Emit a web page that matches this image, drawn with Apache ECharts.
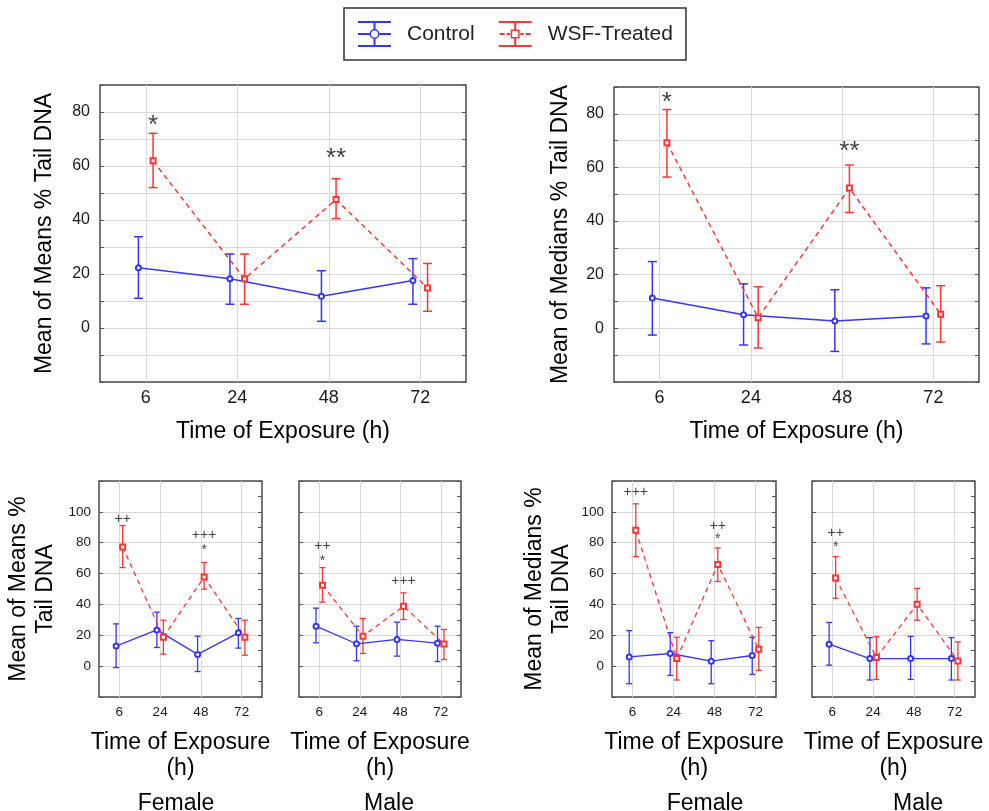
<!DOCTYPE html>
<html>
<head>
<meta charset="utf-8">
<script src="https://cdn.jsdelivr.net/npm/echarts@6/dist/echarts.min.js"></script>
<style>
  html, body { margin: 0; background: #fff; }
  #chart { width: 989px; height: 811px; }
</style>
</head>
<body>
<div id="chart"></div>
<script>
var hours = ['6', '24', '48', '72']

// each row: [mean, lower, upper] for 6, 24, 48, 72 h
var allMeansCtrl = [[22.3, 11.0, 33.8], [18.2, 8.8, 27.4], [11.8, 2.5, 21.2], [17.6, 8.8, 25.7]]
var allMeansWsf = [[61.9, 52.0, 72.1], [18.2, 8.8, 27.4], [47.6, 40.5, 55.3], [14.8, 6.2, 23.9]]
var allMediansCtrl = [[11.3, -2.5, 24.9], [5.1, -6.2, 16.6], [2.7, -8.6, 14.4], [4.6, -5.8, 15.1]]
var allMediansWsf = [[69.2, 56.4, 81.6], [4.0, -7.3, 15.5], [52.3, 43.2, 60.9], [5.3, -5.1, 15.9]]
var femaleMeansCtrl = [[13.0, -0.9, 27.4], [23.5, 12.1, 35.0], [7.6, -3.5, 19.4], [21.6, 11.7, 30.9]]
var femaleMeansWsf = [[77.3, 63.9, 91.1], [18.8, 7.8, 29.8], [57.7, 49.9, 67.2], [18.8, 7.1, 29.8]]
var maleMeansCtrl = [[25.9, 15.1, 37.6], [14.5, 3.5, 25.9], [17.3, 6.5, 28.5], [14.9, 3.0, 25.9]]
var maleMeansWsf = [[52.5, 41.5, 63.9], [19.4, 8.2, 30.9], [38.9, 30.2, 47.5], [14.3, 4.3, 23.8]]
var femaleMediansCtrl = [[6.0, -11.4, 23.0], [8.2, -6.0, 21.7], [3.2, -11.4, 16.5], [6.9, -5.4, 18.7]]
var femaleMediansWsf = [[88.0, 71.0, 105.2], [4.9, -9.0, 18.7], [65.9, 54.9, 76.6], [10.9, -2.8, 25.1]]
var maleMediansCtrl = [[14.2, 0.6, 28.3], [4.9, -9.0, 18.5], [4.9, -8.6, 19.3], [4.9, -9.0, 18.5]]
var maleMediansWsf = [[57.1, 44.0, 71.0], [5.6, -8.6, 19.1], [40.1, 29.8, 50.4], [3.4, -9.0, 15.7]]

// significance marks: [time index, y, text]
var allMeansMarks = [[0, 75, '*'], [2, 62.5, '**']]
var allMediansMarks = [[0, 84, '*'], [2, 66, '**']]
var femaleMeansMarks = [[0, 95, '++'], [2, 85, '+++'], [2, 75, '*']]
var maleMeansMarks = [[0, 78, '++'], [0, 68, '*'], [2, 55, '+++']]
var femaleMediansMarks = [[0, 112.5, '+++'], [2, 91, '++'], [2, 82, '*']]
var maleMediansMarks = [[0, 86, '++'], [0, 77, '*']]

var BLUE = '#3535ff'
var RED = '#ff3535'
var FONT = 'Liberation Sans, Arial, sans-serif'
var DX = 0.16

var panels = [
  { ctrl: allMeansCtrl, wsf: allMeansWsf, marks: allMeansMarks, left: 100, top: 85, width: 366, height: 297, ymax: 90, step: 10, big: true,
    yName: 'Mean of Means % Tail DNA', yGap: 42, xName: 'Time of Exposure (h)', xGap: 37 },
  { ctrl: allMediansCtrl, wsf: allMediansWsf, marks: allMediansMarks, left: 614, top: 87, width: 365, height: 295, ymax: 90, step: 10, big: true,
    yName: 'Mean of Medians % Tail DNA', yGap: 40, xName: 'Time of Exposure (h)', xGap: 37 },
  { ctrl: femaleMeansCtrl, wsf: femaleMeansWsf, marks: femaleMeansMarks, left: 99, top: 481, width: 163, height: 216, ymax: 120, step: 20,
    yName: 'Mean of Means %\nTail DNA', yGap: 40, xName: 'Time of Exposure\n(h)', xGap: 33 },
  { ctrl: maleMeansCtrl, wsf: maleMeansWsf, marks: maleMeansMarks, left: 299, top: 481, width: 162, height: 216, ymax: 120, step: 20,
    yName: '', yGap: 0, xName: 'Time of Exposure\n(h)', xGap: 33 },
  { ctrl: femaleMediansCtrl, wsf: femaleMediansWsf, marks: femaleMediansMarks, left: 612, top: 481, width: 164, height: 216, ymax: 120, step: 20,
    yName: 'Mean of Medians %\nTail DNA', yGap: 37, xName: 'Time of Exposure\n(h)', xGap: 33 },
  { ctrl: maleMediansCtrl, wsf: maleMediansWsf, marks: maleMediansMarks, left: 812, top: 481, width: 163, height: 216, ymax: 120, step: 20,
    yName: '', yGap: 0, xName: 'Time of Exposure\n(h)', xGap: 33 }
]

var sexLabels = [
  { text: 'Female', x: 171 }, { text: 'Male', x: 384 },
  { text: 'Female', x: 700 }, { text: 'Male', x: 913 }
]

var ctrlIcon = 'path://M0,0H33V2H0Z M0,24H33V26H0Z M0,12H11.5V14H0Z M21.5,12H33V14H21.5Z M15.5,2H17.5V8H15.5Z M15.5,18H17.5V24H15.5Z ' +
  'M21.5,13A5,5 0 1,0 11.5,13A5,5 0 1,0 21.5,13Z M20,13A3.5,3.5 0 1,1 13,13A3.5,3.5 0 1,1 20,13Z'
var wsfIcon = 'path://M0,0H33V2H0Z M0,24H33V26H0Z M1,12H6V14H1Z M8,12H11.5V14H8Z M21.5,12H25V14H21.5Z M27,12H32V14H27Z M15.5,2H17.5V8.5H15.5Z M15.5,17.5H17.5V24H15.5Z ' +
  'M12,8.5H21V17.5H12Z M13.5,16H19.5V10H13.5Z'

function errorBars (k, name, rows, dx, color, capW, lw) {
  return {
    type: 'custom', name: name, xAxisIndex: k, yAxisIndex: 2 * k, z: 2,
    color: color, itemStyle: { color: color },
    data: rows.map(function (r, i) { return [2 * i + 1 + dx, r[0], r[1], r[2]] }),
    encode: { x: 0, y: [2, 3] },
    renderItem: function (params, api) {
      var lo = api.coord([api.value(0), api.value(2)])
      var hi = api.coord([api.value(0), api.value(3)])
      var st = { stroke: color, lineWidth: lw }
      return {
        type: 'group',
        children: [
          { type: 'line', shape: { x1: lo[0], y1: lo[1], x2: hi[0], y2: hi[1] }, style: st },
          { type: 'line', shape: { x1: hi[0] - capW, y1: hi[1], x2: hi[0] + capW, y2: hi[1] }, style: st },
          { type: 'line', shape: { x1: lo[0] - capW, y1: lo[1], x2: lo[0] + capW, y2: lo[1] }, style: st }
        ]
      }
    }
  }
}

var grids = [], xAxes = [], yAxes = [], series = []

panels.forEach(function (p, k) {
  var big = !!p.big
  var lw = big ? 1.5 : 1.3
  grids.push({ left: p.left, top: p.top, width: p.width, height: p.height, show: true,
    borderColor: '#4a4a4a', borderWidth: 1.5, backgroundColor: '#fff' })
  xAxes.push({
    gridIndex: k, type: 'value', min: 0, max: 8, interval: 1,
    axisLine: { show: false }, axisTick: { show: false },
    axisLabel: { fontSize: big ? 18 : 13.5, color: '#1a1a1a', fontFamily: FONT, margin: big ? 7 : 8,
      formatter: function (v) { return v % 2 === 1 ? hours[(v - 1) / 2] : '' } },
    splitLine: { show: true, showMinLine: false, showMaxLine: false,
      lineStyle: { color: ['#d9d9d9', 'rgba(0,0,0,0)'], width: 1 } },
    name: p.xName, nameLocation: 'middle', nameGap: p.xGap,
    nameTextStyle: { fontSize: 23, color: '#000', fontFamily: FONT, lineHeight: 26 }
  })
  yAxes.push({
    gridIndex: k, type: 'value', min: -20, max: p.ymax, interval: p.step,
    axisLine: { show: false },
    axisTick: { show: true, inside: true, length: 4, lineStyle: { color: '#555' } },
    axisLabel: { show: p.yName !== '', fontSize: big ? 16 : 13.5, color: '#1a1a1a', fontFamily: FONT, margin: big ? 10 : 8,
      formatter: function (v) { return (v >= 0 && v <= 100 && v % 20 === 0) ? String(v) : '' } },
    splitLine: { show: true, showMinLine: false, showMaxLine: false, lineStyle: { color: '#d9d9d9', width: 1 } },
    name: p.yName, nameLocation: 'middle', nameGap: p.yGap,
    nameTextStyle: { fontSize: 23, color: '#000', fontFamily: FONT, lineHeight: big ? 26 : 27 }
  })
  yAxes.push({
    gridIndex: k, type: 'value', position: 'right', min: -20, max: p.ymax, interval: 10,
    axisLine: { show: false }, axisLabel: { show: false }, splitLine: { show: false },
    axisTick: { show: true, inside: true, length: 4, lineStyle: { color: '#555' } }
  })

  var capW = big ? 4.5 : 3
  series.push(errorBars(k, 'Control', p.ctrl, -DX, BLUE, capW, lw))
  series.push(errorBars(k, 'WSF-Treated', p.wsf, DX, RED, capW, lw))
  series.push({
    type: 'line', name: 'Control', xAxisIndex: k, yAxisIndex: 2 * k, z: 3,
    data: p.ctrl.map(function (r, i) { return [2 * i + 1 - DX, r[0]] }),
    symbol: 'emptyCircle', symbolSize: 5, color: BLUE,
    itemStyle: { color: BLUE, borderWidth: 1.2 },
    lineStyle: { color: BLUE, width: lw }
  })
  series.push({
    type: 'line', name: 'WSF-Treated', xAxisIndex: k, yAxisIndex: 2 * k, z: 3,
    data: p.wsf.map(function (r, i) { return [2 * i + 1 + DX, r[0]] }),
    symbol: 'emptyRect', symbolSize: 5, color: RED,
    itemStyle: { color: RED, borderWidth: 1.2 },
    lineStyle: { color: RED, width: lw, type: [5, 4] }
  })
  series.push({
    type: 'scatter', name: 'marks', xAxisIndex: k, yAxisIndex: 2 * k, z: 4,
    symbolSize: 0, silent: true,
    data: p.marks.map(function (m) { return { value: [2 * m[0] + 1 + DX, m[1]], mark: m[2] } }),
    label: { show: true, position: 'inside', color: '#111', fontFamily: FONT,
      fontSize: big ? 26 : 14,
      formatter: function (d) { return d.data.mark } }
  })
})

var option = {
  animation: false,
  backgroundColor: '#fff',
  title: sexLabels.map(function (s) {
    return { text: s.text, left: s.x, top: 787, textAlign: 'center',
      textStyle: { fontSize: 23, fontWeight: 'normal', color: '#000', fontFamily: FONT } }
  }),
  legend: {
    left: 344, top: 8, padding: [13, 13, 13, 14],
    borderColor: '#333', borderWidth: 1.5,
    itemWidth: 33, itemHeight: 26, itemGap: 24,
    itemStyle: { borderWidth: 0 },
    textStyle: { fontSize: 21, color: '#222', fontFamily: FONT, padding: [0, 0, 0, 11] },
    data: [{ name: 'Control', icon: ctrlIcon, itemStyle: { color: BLUE } },
      { name: 'WSF-Treated', icon: wsfIcon, itemStyle: { color: RED } }]
  },
  grid: grids,
  xAxis: xAxes,
  yAxis: yAxes,
  series: series
}

var chart = echarts.init(document.getElementById('chart'))
chart.setOption(option)
</script>
</body>
</html>
